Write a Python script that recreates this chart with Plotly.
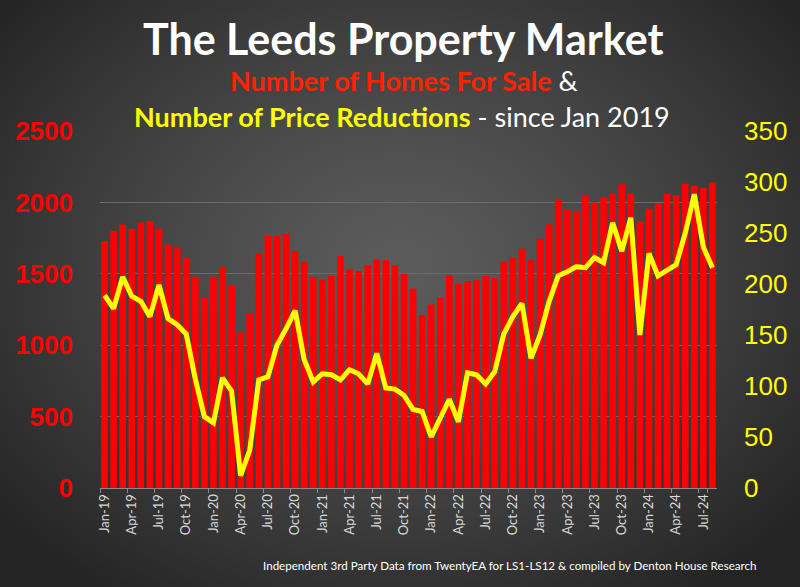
import base64
import struct
import zlib

import numpy as np
import plotly.graph_objects as go

# ---------------- data ----------------
month_names = ["Jan", "Feb", "Mar", "Apr", "May", "Jun",
               "Jul", "Aug", "Sep", "Oct", "Nov", "Dec"]
years = ["19", "20", "21", "22", "23", "24"]
months = [f"{m}-{y}" for y in years for m in month_names][:68]  # Jan-19 .. Aug-24

homes_for_sale = [
    1730, 1800, 1845, 1815, 1860, 1870, 1815, 1705, 1685, 1615, 1480, 1330,
    1480, 1550, 1420, 1090, 1225, 1645, 1765, 1765, 1780, 1660, 1590, 1480,
    1460, 1485, 1625, 1530, 1520, 1560, 1600, 1595, 1560, 1500, 1395, 1210,
    1285, 1330, 1490, 1430, 1450, 1455, 1485, 1470, 1590, 1615, 1675, 1595,
    1745, 1845, 2020, 1950, 1935, 2050, 2000, 2035, 2060, 2125, 2065, 1870,
    1955, 1995, 2060, 2050, 2130, 2115, 2100, 2140,
]

price_reductions = [
    189, 176, 207, 188, 183, 168, 199, 166, 160, 151, 107, 70,
    64, 108, 95, 12, 37, 106, 109, 140, 156, 174, 126, 104,
    112, 111, 106, 116, 112, 102, 132, 98, 97, 91, 77, 75,
    50, 68, 87, 65, 113, 111, 102, 114, 151, 168, 181, 127,
    150, 183, 208, 212, 217, 216, 226, 221, 260, 232, 265, 150,
    230, 208, 214, 219, 250, 288, 236, 216,
]

tick_labels = months[::3]
left_ticks = [0, 500, 1000, 1500, 2000, 2500]
right_ticks = [0, 50, 100, 150, 200, 250, 300, 350]

# ---------------- background gradient (PNG built by hand) ----------------
def make_bg_png(w=200, h=147):
    yy, xx = np.mgrid[0:h, 0:w]
    dx = (xx / (w - 1) - 0.5) / 0.58
    dy = (yy / (h - 1) - 0.45) / 0.62
    d = np.sqrt(dx ** 2 + dy ** 2)
    val = 92 - (92 - 44) * np.power(d, 1.25)
    val = np.clip(val, 36, 255).astype(np.uint8)
    raw = b"".join(b"\x00" + val[r].tobytes() for r in range(h))

    def chunk(tag, data):
        c = struct.pack(">I", len(data)) + tag + data
        return c + struct.pack(">I", zlib.crc32(tag + data) & 0xFFFFFFFF)

    png = b"\x89PNG\r\n\x1a\n"
    png += chunk(b"IHDR", struct.pack(">IIBBBBB", w, h, 8, 0, 0, 0, 0))
    png += chunk(b"IDAT", zlib.compress(raw, 9))
    png += chunk(b"IEND", b"")
    return "data:image/png;base64," + base64.b64encode(png).decode()


W, H = 800, 587
L, R, T, B = 100, 83, 131, 99
PW, PH = W - L - R, H - T - B


def px(x):
    return (x - L) / PW


def py(y):
    return (H - B - y) / PH


fig = go.Figure()

fig.add_trace(go.Bar(
    x=months, y=homes_for_sale, name="Homes For Sale",
    marker=dict(color="#ff0000", line=dict(width=0)),
    yaxis="y",
))
fig.add_trace(go.Scatter(
    x=months, y=price_reductions, name="Price Reductions",
    mode="lines", line=dict(color="#ffff00", width=5),
    yaxis="y2",
))

font_main = "Lato, 'Open Sans', sans-serif"

fig.update_layout(
    width=W, height=H,
    margin=dict(l=L, r=R, t=T, b=B, pad=0),
    paper_bgcolor="#444444",
    plot_bgcolor="rgba(0,0,0,0)",
    showlegend=False,
    bargap=0.27,
    font=dict(family=font_main),
    xaxis=dict(
        type="category",
        tickmode="array", tickvals=tick_labels, ticktext=tick_labels,
        tickangle=-90,
        tickfont=dict(family=font_main, size=13, color="#d9d9d9"),
        ticks="outside", ticklen=4, tickcolor="#8a8a8a", tickson="boundaries",
        showline=True, linecolor="#8a8a8a", linewidth=1,
        showgrid=False, zeroline=False,
        range=[-0.5, len(months) - 0.5],
    ),
    yaxis=dict(
        range=[0, 2500], tickvals=left_ticks,
        tickfont=dict(family="'Liberation Sans', Arial, sans-serif", size=26, color="#ff0000", weight="bold"),
        showgrid=True, gridcolor="#6b6b6b", gridwidth=1,
        zeroline=False, showline=False, ticks="",
        ticklabelstandoff=26,
    ),
    yaxis2=dict(
        range=[0, 350], tickvals=right_ticks,
        overlaying="y", side="right",
        tickfont=dict(family="'Liberation Sans', Arial, sans-serif", size=26, color="#ffff00"),
        showgrid=False, zeroline=False, showline=False, ticks="",
        ticklabelstandoff=26,
    ),
    images=[dict(
        source=make_bg_png(), xref="paper", yref="paper",
        x=px(0), y=py(0), sizex=W / PW, sizey=H / PH,
        xanchor="left", yanchor="top", sizing="stretch", layer="below",
    )],
    annotations=[
        dict(text="<b>The Leeds Property Market</b>", x=px(403), y=py(38),
             xref="paper", yref="paper", showarrow=False, xanchor="center", yanchor="middle",
             font=dict(family=font_main, size=43, color="#ffffff")),
        dict(text="<b><span style='color:#ff2200'>Number of Homes For Sale</span></b> &amp;",
             x=px(404), y=py(80),
             xref="paper", yref="paper", showarrow=False, xanchor="center", yanchor="middle",
             font=dict(family=font_main, size=27, color="#ffffff")),
        dict(text="<b><span style='color:#ffff00'>Number of Price Reductions</span></b> - since Jan 2019",
             x=px(402), y=py(117),
             xref="paper", yref="paper", showarrow=False, xanchor="center", yanchor="middle",
             font=dict(family=font_main, size=27, color="#ffffff")),
        dict(text="Independent 3rd Party Data from TwentyEA for LS1-LS12 &amp; compiled by Denton House Research",
             x=px(759), y=py(565),
             xref="paper", yref="paper", showarrow=False, xanchor="right", yanchor="middle",
             font=dict(family=font_main, size=11.6, color="#ffffff")),
    ],
)

fig.write_html(
    "out.html",
    config={"displayModeBar": False},
    post_script="document.body.style.margin='0';document.body.style.overflow='hidden';",
)
